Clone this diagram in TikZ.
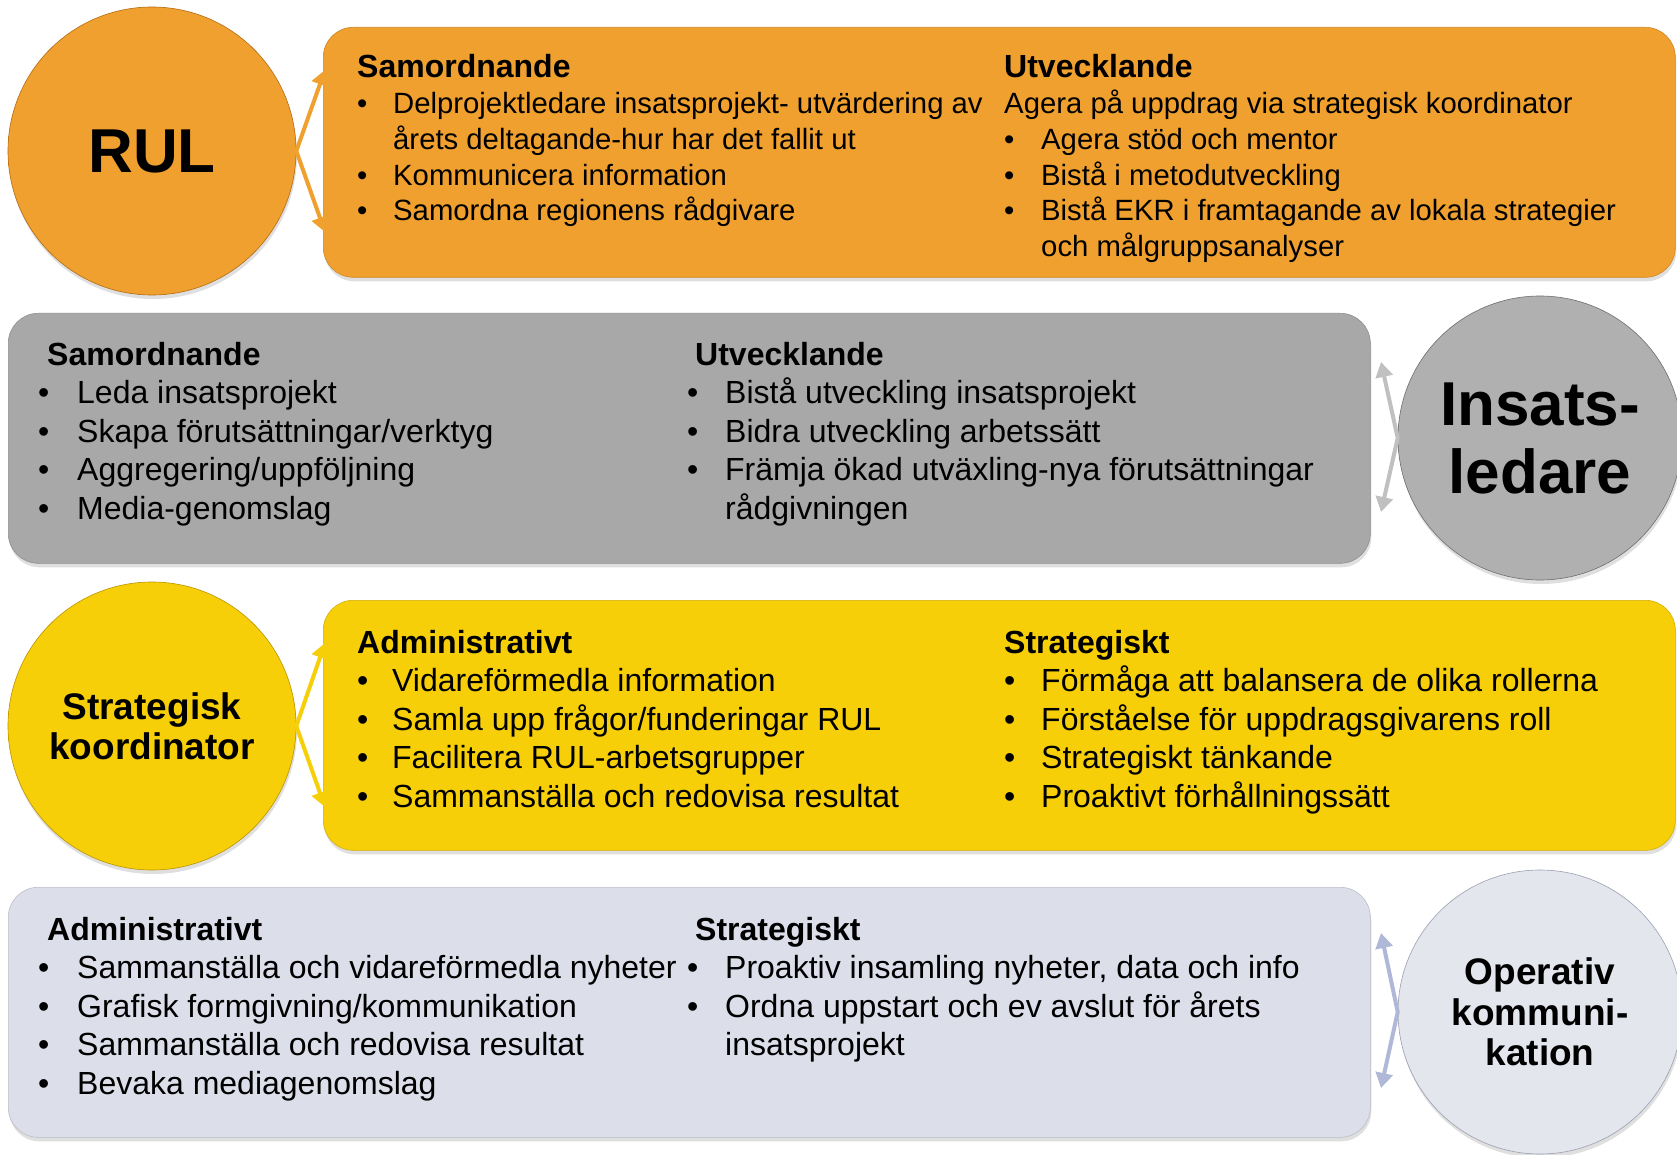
\documentclass[tikz,border=0pt]{standalone}
\usepackage{fontspec}
\setmainfont{Liberation Sans}
\usetikzlibrary{arrows.meta,shadows}

\definecolor{rulorange}{RGB}{240,160,46}
\definecolor{rulrim}{RGB}{212,126,20}
\definecolor{insgray}{RGB}{168,168,168}
\definecolor{inslight}{RGB}{176,176,176}
\definecolor{insrim}{RGB}{130,130,130}
\definecolor{insarrow}{RGB}{192,192,192}
\definecolor{stryellow}{RGB}{246,207,8}
\definecolor{strrim}{RGB}{220,174,0}
\definecolor{oplav}{RGB}{220,222,234}
\definecolor{oplight}{RGB}{228,230,238}
\definecolor{oprim}{RGB}{184,188,206}
\definecolor{oparrow}{RGB}{176,184,216}

\pgfdeclareradialshading[discin,discout]{disc}{\pgfpoint{0bp}{0bp}}{color(0bp)=(discin); color(28bp)=(discin); color(50bp)=(discout)}

\newcommand\hd[2]{\multicolumn{2}{@{\hspace*{#1}}l@{}}{\bfseries\fontsize{32}{32}\selectfont #2}}
\newcommand\whole[1]{\multicolumn{2}{@{}l@{}}{#1}}

\tikzset{
  roundel/.style 2 args={circle, inner sep=0pt, minimum size=288pt, align=center,
    /utils/exec={\colorlet{discin}{#1}\colorlet{discout}{#2}},
    shading=disc, draw=#2!85!black, line width=0.6pt,
    drop shadow={opacity=0.25, shadow xshift=1pt, shadow yshift=-4pt}},
  panel/.style={rectangle, rounded corners=30pt, minimum width=1352pt, minimum height=250pt,
    anchor=north west, inner sep=0pt, fill=#1, draw=#1!85!black, line width=0.6pt,
    drop shadow={opacity=0.25, shadow xshift=1pt, shadow yshift=-4pt}},
  col/.style={anchor=base west, inner sep=0pt, font=\fontsize{32}{38.5}\selectfont},
  smallcol/.style={anchor=base west, inner sep=0pt, font=\fontsize{29.3}{35.75}\selectfont},
  link/.style={draw=#1, line width=4pt, {Triangle[length=15pt,width=17pt]}-{Triangle[length=15pt,width=17pt]}}
}

\begin{document}
\begin{tikzpicture}[x=1pt,y=-1pt]
\path[use as bounding box, fill=white] (0,0) rectangle (1677,1155);

\node[panel=rulorange] (rulbox) at (323,27) {};
\node[roundel={rulorange}{rulrim}, font=\bfseries\fontsize{62}{68}\selectfont] (rul) at (152,151) {RUL};
\node[smallcol] (rulsam) at (357,78) {\begin{tabular}[t]{@{}p{36pt}@{}l@{}}
\hd{0pt}{Samordnande}\\
\textbullet & Delprojektledare insatsprojekt- utvärdering av\\
 & årets deltagande-hur har det fallit ut\\
\textbullet & Kommunicera information\\
\textbullet & Samordna regionens rådgivare
\end{tabular}};
\node[smallcol] (rulutv) at (1004,78) {\begin{tabular}[t]{@{}p{37pt}@{}l@{}}
\hd{0pt}{Utvecklande}\\
\whole{Agera på uppdrag via strategisk koordinator}\\
\textbullet & Agera stöd och mentor\\
\textbullet & Bistå i metodutveckling\\
\textbullet & Bistå EKR i framtagande av lokala strategier\\
 & och målgruppsanalyser
\end{tabular}};
\coordinate (rulup) at (325,70);
\coordinate (ruldown) at (325,232);
\draw[link=rulorange] (rulup) -- (rul.east) -- (ruldown);

\node[panel=insgray, minimum width=1362pt] (insbox) at (8,313) {};
\node[roundel={inslight}{insrim}, minimum size=284pt, font=\bfseries\fontsize{62}{68}\selectfont] (insats) at (1540,438) {Insats-\\ledare};
\node[col] (inssam) at (38,365) {\begin{tabular}[t]{@{}p{39pt}@{}l@{}}
\hd{9pt}{Samordnande}\\
\textbullet & Leda insatsprojekt\\
\textbullet & Skapa förutsättningar/verktyg\\
\textbullet & Aggregering/uppföljning\\
\textbullet & Media-genomslag
\end{tabular}};
\node[col] (insutv) at (687,365) {\begin{tabular}[t]{@{}p{38pt}@{}l@{}}
\hd{8pt}{Utvecklande}\\
\textbullet & Bistå utveckling insatsprojekt\\
\textbullet & Bidra utveckling arbetssätt\\
\textbullet & Främja ökad utväxling-nya förutsättningar\\
 & rådgivningen
\end{tabular}};
\coordinate (insup) at (1381,362);
\coordinate (insdown) at (1381,512);
\draw[link=insarrow] (insup) -- (insats.west) -- (insdown);

\node[panel=stryellow] (stratbox) at (323,600) {};
\node[roundel={stryellow}{strrim}, font=\bfseries\fontsize{37}{40}\selectfont] (strat) at (152,726) {Strategisk\\koordinator};
\node[col] (stratadm) at (357,653) {\begin{tabular}[t]{@{}p{35pt}@{}l@{}}
\hd{0pt}{Administrativt}\\
\textbullet & Vidareförmedla information\\
\textbullet & Samla upp frågor/funderingar RUL\\
\textbullet & Facilitera RUL-arbetsgrupper\\
\textbullet & Sammanställa och redovisa resultat
\end{tabular}};
\node[col] (stratstr) at (1004,653) {\begin{tabular}[t]{@{}p{37pt}@{}l@{}}
\hd{0pt}{Strategiskt}\\
\textbullet & Förmåga att balansera de olika rollerna\\
\textbullet & Förståelse för uppdragsgivarens roll\\
\textbullet & Strategiskt tänkande\\
\textbullet & Proaktivt förhållningssätt
\end{tabular}};
\coordinate (stratup) at (325,643);
\coordinate (stratdown) at (325,807);
\draw[link=stryellow] (stratup) -- (strat.east) -- (stratdown);

\node[panel=oplav, minimum width=1362pt] (operbox) at (8,887) {};
\node[roundel={oplight}{oprim}, minimum size=284pt, font=\bfseries\fontsize{37}{40.5}\selectfont] (oper) at (1540,1012) {Operativ\\kommuni-\\kation};
\node[col] (operadm) at (38,940) {\begin{tabular}[t]{@{}p{39pt}@{}l@{}}
\hd{9pt}{Administrativt}\\
\textbullet & Sammanställa och vidareförmedla nyheter\\
\textbullet & Grafisk formgivning/kommunikation\\
\textbullet & Sammanställa och redovisa resultat\\
\textbullet & Bevaka mediagenomslag
\end{tabular}};
\node[col] (operstr) at (687,940) {\begin{tabular}[t]{@{}p{38pt}@{}l@{}}
\hd{8pt}{Strategiskt}\\
\textbullet & Proaktiv insamling nyheter, data och info\\
\textbullet & Ordna uppstart och ev avslut för årets\\
 & insatsprojekt
\end{tabular}};
\coordinate (operup) at (1381,933);
\coordinate (operdown) at (1381,1088);
\draw[link=oparrow] (operup) -- (oper.west) -- (operdown);
\end{tikzpicture}
\end{document}
